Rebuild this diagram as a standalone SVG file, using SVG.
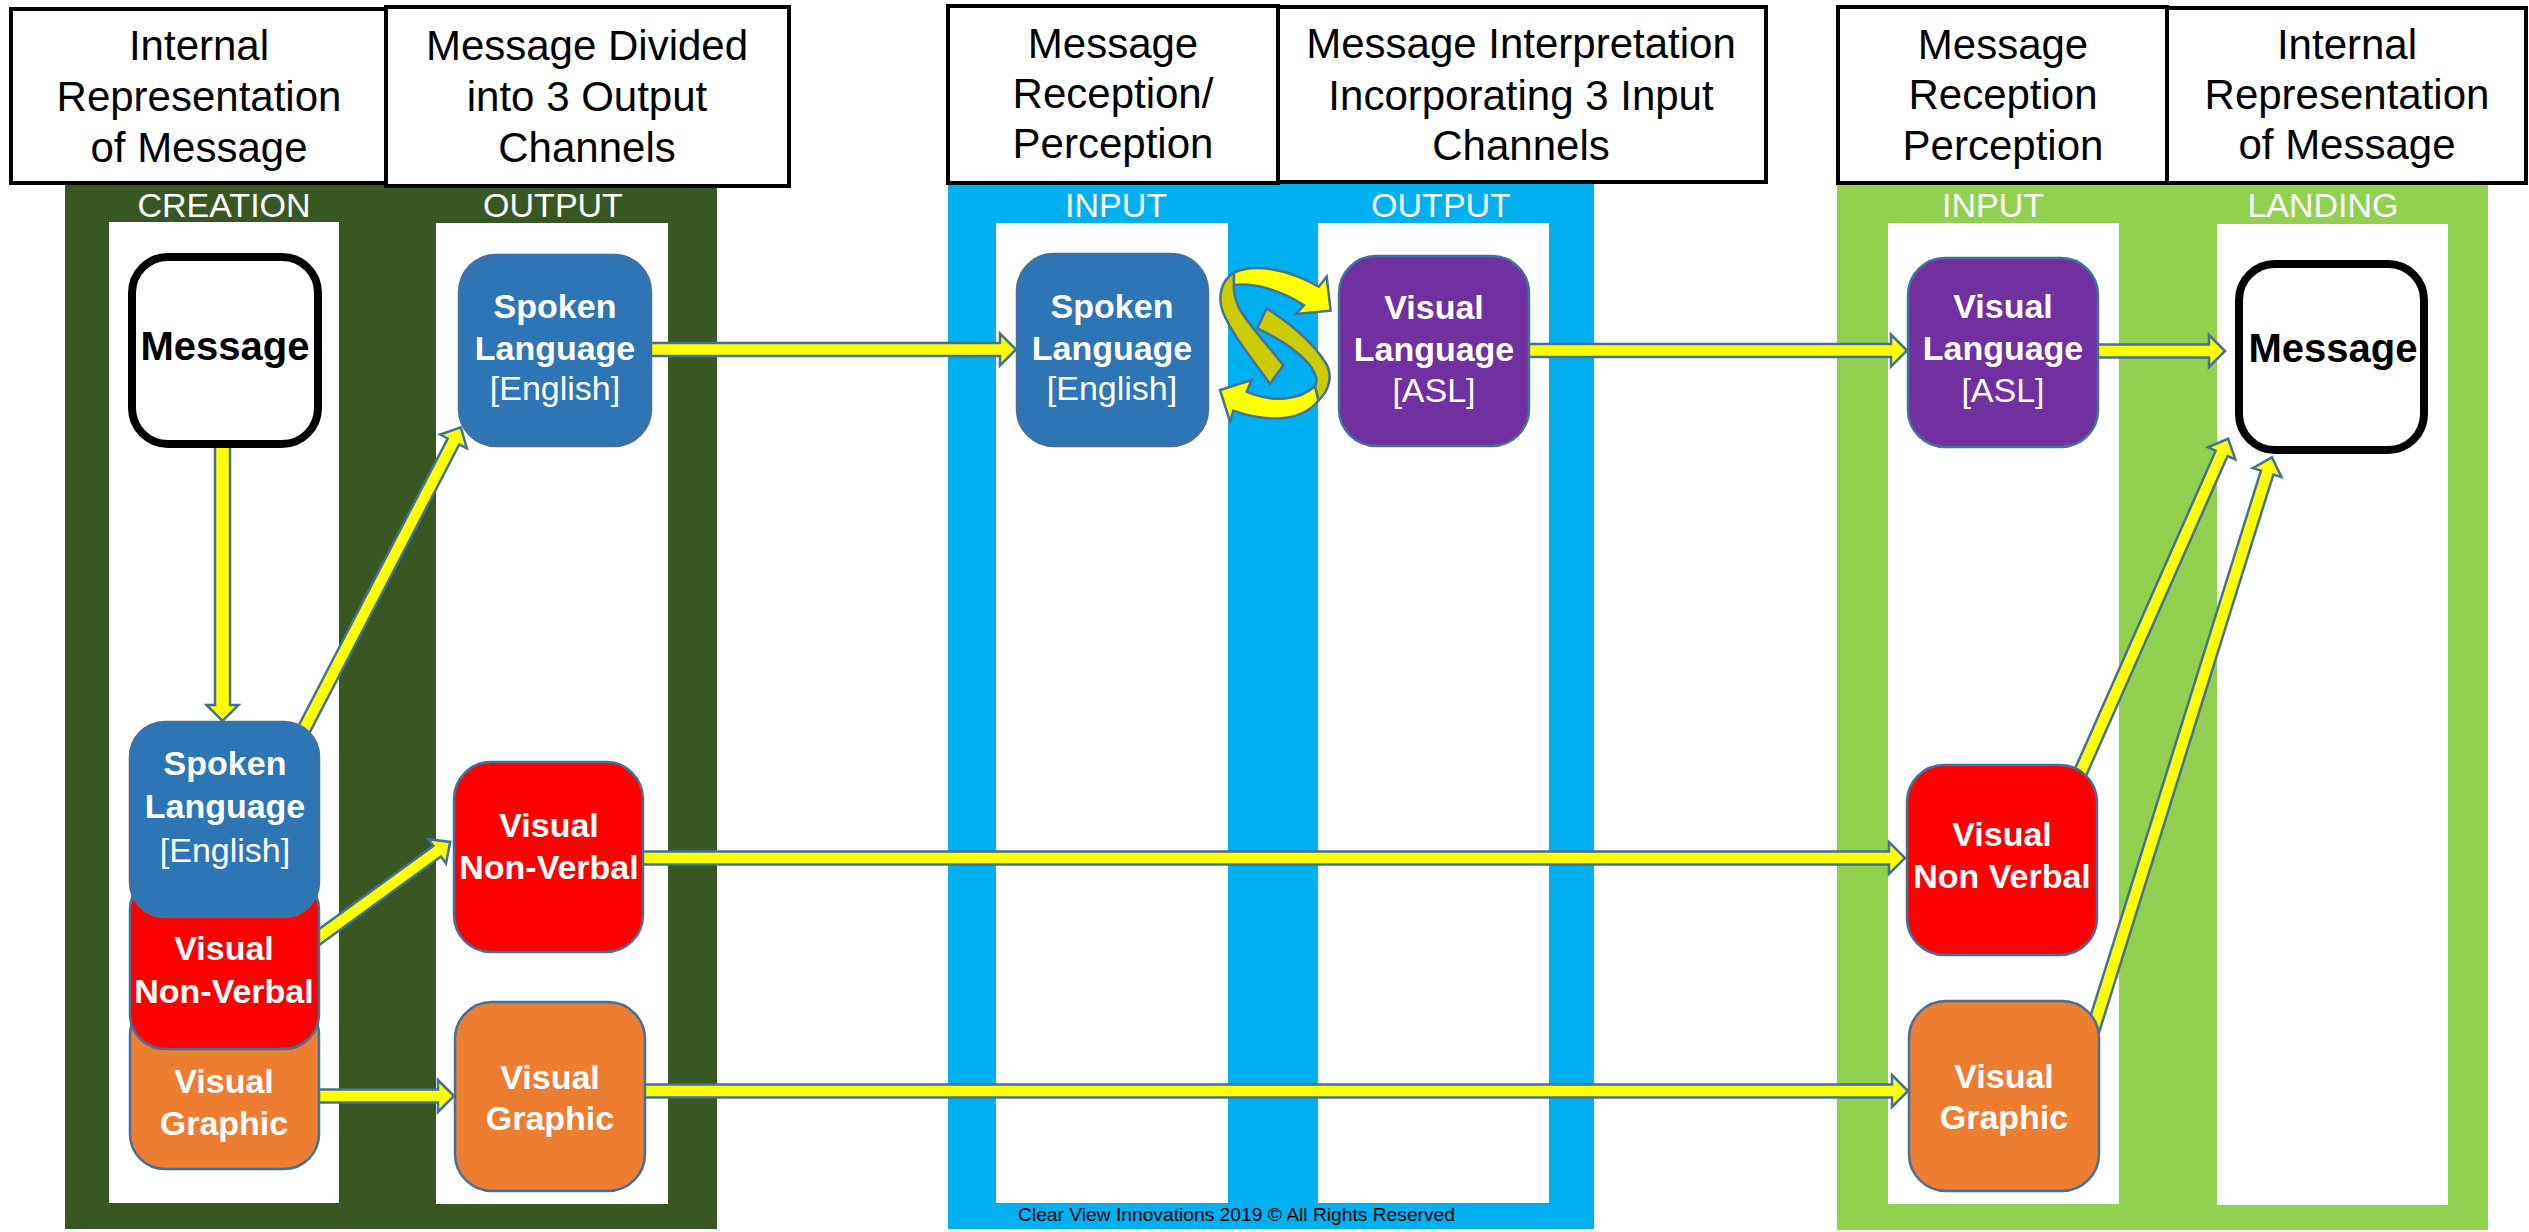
<svg xmlns="http://www.w3.org/2000/svg" width="2529" height="1232" viewBox="0 0 2529 1232">
<style>
.hdr{fill:#fff;stroke:#000;stroke-width:4}
.ht{font-family:"Liberation Sans",Arial,sans-serif;font-size:42px;fill:#000;text-anchor:middle}
.lbl{font-family:"Liberation Sans",Arial,sans-serif;font-size:34px;fill:#fff;text-anchor:middle}
.col{fill:#fff}
.nb{stroke:#41719C;stroke-width:2.5}
.nt{font-family:"Liberation Sans",Arial,sans-serif;font-weight:bold;font-size:34px;fill:#fff;text-anchor:middle}
.nr{font-weight:normal}
.msg{fill:#fff;stroke:#000;stroke-width:8}
.mt{font-family:"Liberation Sans",Arial,sans-serif;font-weight:bold;font-size:40px;fill:#000;text-anchor:middle}
.arr{fill:#FFFF00;stroke:#41719C;stroke-width:2.5;stroke-linejoin:miter}
.ol{fill:#CCCC00;stroke:#41719C;stroke-width:7.5}
.yl{fill:#FFFF00;stroke:#41719C;stroke-width:7.5}
.blue{fill:#2E75B6}.red{fill:#FF0000}.orange{fill:#ED7D31}.purple{fill:#7030A0}
</style>
<rect width="2529" height="1232" fill="#fff"/>
<g id="panels">
<rect x="65" y="183" width="652" height="1046" fill="#385723"/>
<rect x="948" y="183" width="646" height="1046" fill="#00B0F0"/>
<rect x="1837" y="183" width="651" height="1047" fill="#92D050"/>
<rect class="col" x="109" y="222" width="230" height="981"/>
<rect class="col" x="436" y="223" width="232" height="981"/>
<rect class="col" x="996" y="223" width="232" height="980"/>
<rect class="col" x="1318" y="223" width="231" height="980"/>
<rect class="col" x="1888" y="223" width="231" height="981"/>
<rect class="col" x="2217" y="224" width="231" height="981"/>
<text class="lbl" x="224" y="217">CREATION</text>
<text class="lbl" x="553" y="217">OUTPUT</text>
<text class="lbl" x="1116" y="217">INPUT</text>
<text class="lbl" x="1441" y="217">OUTPUT</text>
<text class="lbl" x="1993" y="217">INPUT</text>
<text class="lbl" x="2323" y="217">LANDING</text>
</g>
<g id="header1"><rect class="hdr" x="11" y="9" width="375" height="174"/>
<text class="ht" x="199" y="60">Internal</text><text class="ht" x="199" y="111">Representation</text><text class="ht" x="199" y="162">of Message</text></g>
<g id="header2"><rect class="hdr" x="386" y="7" width="403" height="179"/>
<text class="ht" x="587" y="60">Message Divided</text><text class="ht" x="587" y="111">into 3 Output</text><text class="ht" x="587" y="162">Channels</text></g>
<g id="header3"><rect class="hdr" x="948" y="6" width="330" height="177"/>
<text class="ht" x="1113" y="58">Message</text><text class="ht" x="1113" y="108">Reception/</text><text class="ht" x="1113" y="158">Perception</text></g>
<g id="header4"><rect class="hdr" x="1278" y="7" width="488" height="175"/>
<text class="ht" x="1521" y="58">Message Interpretation</text><text class="ht" x="1521" y="110">Incorporating 3 Input</text><text class="ht" x="1521" y="160">Channels</text></g>
<g id="header5"><rect class="hdr" x="1838" y="7" width="329" height="176"/>
<text class="ht" x="2003" y="59">Message</text><text class="ht" x="2003" y="109">Reception</text><text class="ht" x="2003" y="160">Perception</text></g>
<g id="header6"><rect class="hdr" x="2167" y="8" width="359" height="175"/>
<text class="ht" x="2347" y="59">Internal</text><text class="ht" x="2347" y="109">Representation</text><text class="ht" x="2347" y="159">of Message</text></g>

<g id="connectors">
<path class="arr" transform="translate(648,349.5)" d="M0,-6.5H352V-16L368,0L352,16V6.5H0Z"/>
<path class="arr" transform="translate(1526,350.5)" d="M0,-6.5H365V-16L381,0L365,16V6.5H0Z"/>
<path class="arr" transform="translate(2095,351)" d="M0,-6.5H114V-16L130,0L114,16V6.5H0Z"/>
<path class="arr" transform="translate(640,858)" d="M0,-6.5H1249V-16L1265,0L1249,16V6.5H0Z"/>
<path class="arr" transform="translate(642,1091)" d="M0,-6.5H1250V-16L1266,0L1250,16V6.5H0Z"/>
<path class="arr" transform="translate(317,1096)" d="M0,-6.5H121V-16L137,0L121,16V6.5H0Z"/>
<path class="arr" transform="translate(222.5,444) rotate(90)" d="M0,-7.5H261V-16L277,0L261,16V7.5H0Z"/>
<path class="arr" transform="translate(300,737) rotate(-62.55)" d="M0,-6.5H333V-15L349,0L333,15V6.5H0Z"/>
<path class="arr" transform="translate(315,940) rotate(-35.98)" d="M0,-6.5H151V-15L167,0L151,15V6.5H0Z"/>
<path class="arr" transform="translate(2078,778) rotate(-66.13)" d="M0,-6.5H355V-15L371,0L355,15V6.5H0Z"/>
<path class="arr" transform="translate(2093,1030) rotate(-72.65)" d="M0,-6.5H584V-15L600,0L584,15V6.5H0Z"/>
<g transform="translate(1200,240) scale(0.33333)">
<path class="ol" d="M102,98C65,120 50,170 70,220C100,290 160,360 210,432L250,376C200,310 140,250 115,200C105,175 100,150 102,135Z"/>
<path class="ol" d="M172,265L200,205C270,250 340,310 378,370C398,405 390,450 355,482L345,438C355,420 345,395 325,370C285,325 225,290 172,265Z"/>
<path class="yl" d="M102,98C160,70 260,85 356,140L380,110L392,212L288,222L312,196C250,155 170,128 102,135Z"/>
<path class="yl" d="M355,482C300,550 190,545 100,512L90,545L60,450L155,420L140,455C220,490 300,480 345,438Z"/>
</g>
</g>

<g id="creation-message"><rect class="msg" x="132" y="257" width="186" height="187" rx="36"/>
<text class="mt" x="225" y="360">Message</text></g>
<g id="creation-graphic"><rect class="nb orange" x="130" y="1000" width="189" height="169" rx="35"/>
<text class="nt" x="224" y="1093">Visual</text><text class="nt" x="224" y="1135">Graphic</text></g>
<g id="creation-nonverbal"><rect class="nb red" x="130" y="875" width="189" height="174" rx="35"/>
<text class="nt" x="224" y="960">Visual</text><text class="nt" x="224" y="1003">Non-Verbal</text></g>
<g id="creation-spoken"><rect class="nb blue" x="130" y="722" width="189" height="195" rx="35"/>
<text class="nt" x="225" y="775">Spoken</text><text class="nt" x="225" y="818">Language</text><text class="nt nr" x="225" y="862">[English]</text></g>

<g id="output-spoken"><rect class="nb blue" x="459" y="255" width="192" height="191" rx="37"/>
<text class="nt" x="555" y="318">Spoken</text><text class="nt" x="555" y="360">Language</text><text class="nt nr" x="555" y="400">[English]</text></g>
<g id="output-nonverbal"><rect class="nb red" x="454" y="762" width="189" height="190" rx="37"/>
<text class="nt" x="549" y="837">Visual</text><text class="nt" x="549" y="879">Non-Verbal</text></g>
<g id="output-graphic"><rect class="nb orange" x="455" y="1002" width="190" height="189" rx="37"/>
<text class="nt" x="550" y="1089">Visual</text><text class="nt" x="550" y="1130">Graphic</text></g>

<g id="input-spoken"><rect class="nb blue" x="1017" y="254" width="191" height="192" rx="37"/>
<text class="nt" x="1112" y="318">Spoken</text><text class="nt" x="1112" y="360">Language</text><text class="nt nr" x="1112" y="400">[English]</text></g>
<g id="interp-visual-language"><rect class="nb purple" x="1339" y="256" width="190" height="190" rx="37"/>
<text class="nt" x="1434" y="319">Visual</text><text class="nt" x="1434" y="361">Language</text><text class="nt nr" x="1434" y="402">[ASL]</text></g>

<g id="reception-visual-language"><rect class="nb purple" x="1908" y="258" width="190" height="189" rx="37"/>
<text class="nt" x="2003" y="318">Visual</text><text class="nt" x="2003" y="360">Language</text><text class="nt nr" x="2003" y="402">[ASL]</text></g>
<g id="reception-nonverbal"><rect class="nb red" x="1907" y="765" width="190" height="190" rx="37"/>
<text class="nt" x="2002" y="846">Visual</text><text class="nt" x="2002" y="888">Non Verbal</text></g>
<g id="reception-graphic"><rect class="nb orange" x="1909" y="1001" width="190" height="190" rx="37"/>
<text class="nt" x="2004" y="1088">Visual</text><text class="nt" x="2004" y="1129">Graphic</text></g>
<g id="landing-message"><rect class="msg" x="2239" y="264" width="185" height="186" rx="36"/>
<text class="mt" x="2333" y="362">Message</text></g>

<text x="1236.5" y="1221" font-family="'Liberation Sans',Arial,sans-serif" font-size="18" fill="#000" text-anchor="middle" textLength="437" lengthAdjust="spacingAndGlyphs">Clear View Innovations 2019 © All Rights Reserved</text>
</svg>
